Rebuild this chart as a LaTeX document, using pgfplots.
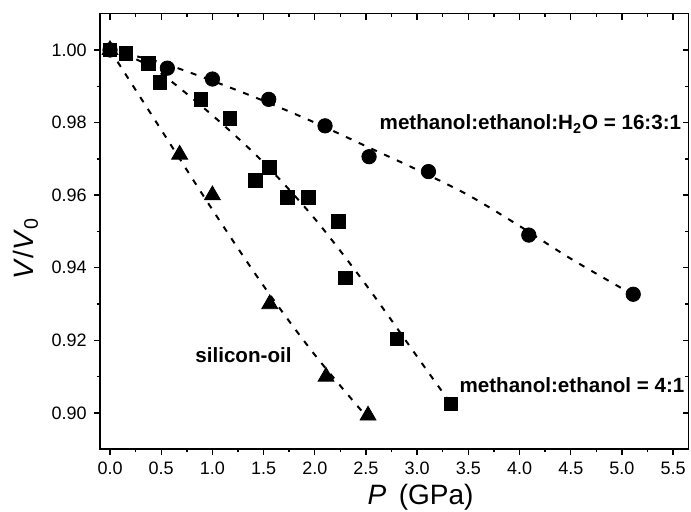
\documentclass[border=0pt]{standalone}
\usepackage{fontspec}
\setmainfont{Liberation Sans}
\usepackage{pgfplots}
\pgfplotsset{compat=1.18}
\usetikzlibrary{calc}

\begin{document}
\begin{tikzpicture}
\pgfplotsset{
  common/.style={
    scale only axis, width=294.4bp, height=217.8bp,
    xmin=-0.1, xmax=5.65, ymin=0.89, ymax=1.01,
    xtick={0,0.5,...,5.5}, ytick={0.90,0.92,...,1.00},
    minor x tick num=1, minor y tick num=1,
    major tick length=3bp, minor tick length=1.6bp,
    every tick/.style={black, line width=0.7bp},
    axis line style={line width=0.8bp},
  }
}
\begin{axis}[common,
   tick align=outside, xtick pos=bottom, ytick pos=left,
   tick label style={font=\fontsize{9bp}{10bp}\selectfont},
   /pgf/number format/assume math mode=true,
   xticklabel={\pgfmathprintnumber[fixed,fixed zerofill,precision=1]{\tick}},
   yticklabel={\pgfmathprintnumber[fixed,fixed zerofill,precision=2]{\tick}},
   xlabel={\textit{P}\, (GPa)},
   ylabel={\textit{V}/\textit{V}\textsubscript{0}},
   label style={font=\fontsize{14bp}{16bp}\selectfont},
   xlabel style={at={(axis description cs:0.545,-0.110)}, anchor=center},
   ylabel style={at={(axis description cs:-0.126,0.461)}, anchor=center},
   clip=false,
]
\coordinate (ll) at (rel axis cs:0,0);
\coordinate (ur) at (rel axis cs:1,1);

% fitted guide lines
\addplot[black, line width=1bp, dash pattern=on 3bp off 4bp, smooth] coordinates {
 (0,1.0) (0.5,0.9965) (1,0.9915) (1.5,0.986) (2,0.980) (2.5,0.9735)
 (3,0.967) (3.5,0.960) (4,0.9515) (4.5,0.9425) (5.1,0.9327)};
\addplot[black, line width=1bp, dash pattern=on 3bp off 4bp, smooth] coordinates {
 (0,1.0) (0.25,0.9975) (0.5,0.9935) (1.0,0.982) (1.5,0.969) (2.0,0.9535)
 (2.5,0.9353) (3.0,0.9155) (3.33,0.9025)};
\addplot[black, line width=1bp, dash pattern=on 3bp off 4bp, smooth] coordinates {
 (0,1.0) (0.5,0.978) (1.0,0.956) (1.5,0.935) (2.0,0.916) (2.52,0.8985)};

% methanol:ethanol:H2O = 16:3:1
\addplot[only marks, mark=*, mark size=3.6bp, black] coordinates {
 (0,1.0) (0.56,0.995) (1.0,0.992) (1.55,0.9864) (2.10,0.9791)
 (2.53,0.9706) (3.11,0.9665) (4.09,0.949) (5.11,0.9327)};
% methanol:ethanol = 4:1
\addplot[only marks, mark=square*, mark size=3.4bp, black] coordinates {
 (0,1.0) (0.156,0.999) (0.377,0.9963) (0.488,0.991) (0.888,0.9864)
 (1.17,0.9812) (1.418,0.964) (1.554,0.9676) (1.73,0.9594) (1.94,0.9594)
 (2.23,0.9527) (2.30,0.9372) (2.80,0.9204) (3.33,0.9025)};
% silicon-oil
\addplot[only marks, mark=triangle*, mark size=4.6bp, black] coordinates {
 (0,1.0) (0.68,0.9712) (1.0,0.960) (1.56,0.930) (2.11,0.910) (2.52,0.8993)};

\node[anchor=west, font=\fontsize{10.3bp}{12bp}\selectfont\bfseries, inner sep=0pt]
  at (axis cs:2.63,0.9796) {methanol:ethanol:H\textsubscript{2}O = 16:3:1};
\node[anchor=west, font=\fontsize{10.3bp}{12bp}\selectfont\bfseries, inner sep=0pt]
  at (axis cs:3.41,0.9077) {methanol:ethanol = 4:1};
\node[anchor=west, font=\fontsize{10.3bp}{12bp}\selectfont\bfseries, inner sep=0pt]
  at (axis cs:0.83,0.916) {silicon-oil};
\end{axis}
\begin{axis}[common, tick align=inside, xtick pos=top, ytick pos=right,
   xticklabels={}, yticklabels={}]
\end{axis}
\pgfresetboundingbox
\path[use as bounding box] ($(ll)+(-49.9bp,-31.35bp)$) rectangle ($(ur)+(1.25bp,6.85bp)$);
\end{tikzpicture}
\end{document}
